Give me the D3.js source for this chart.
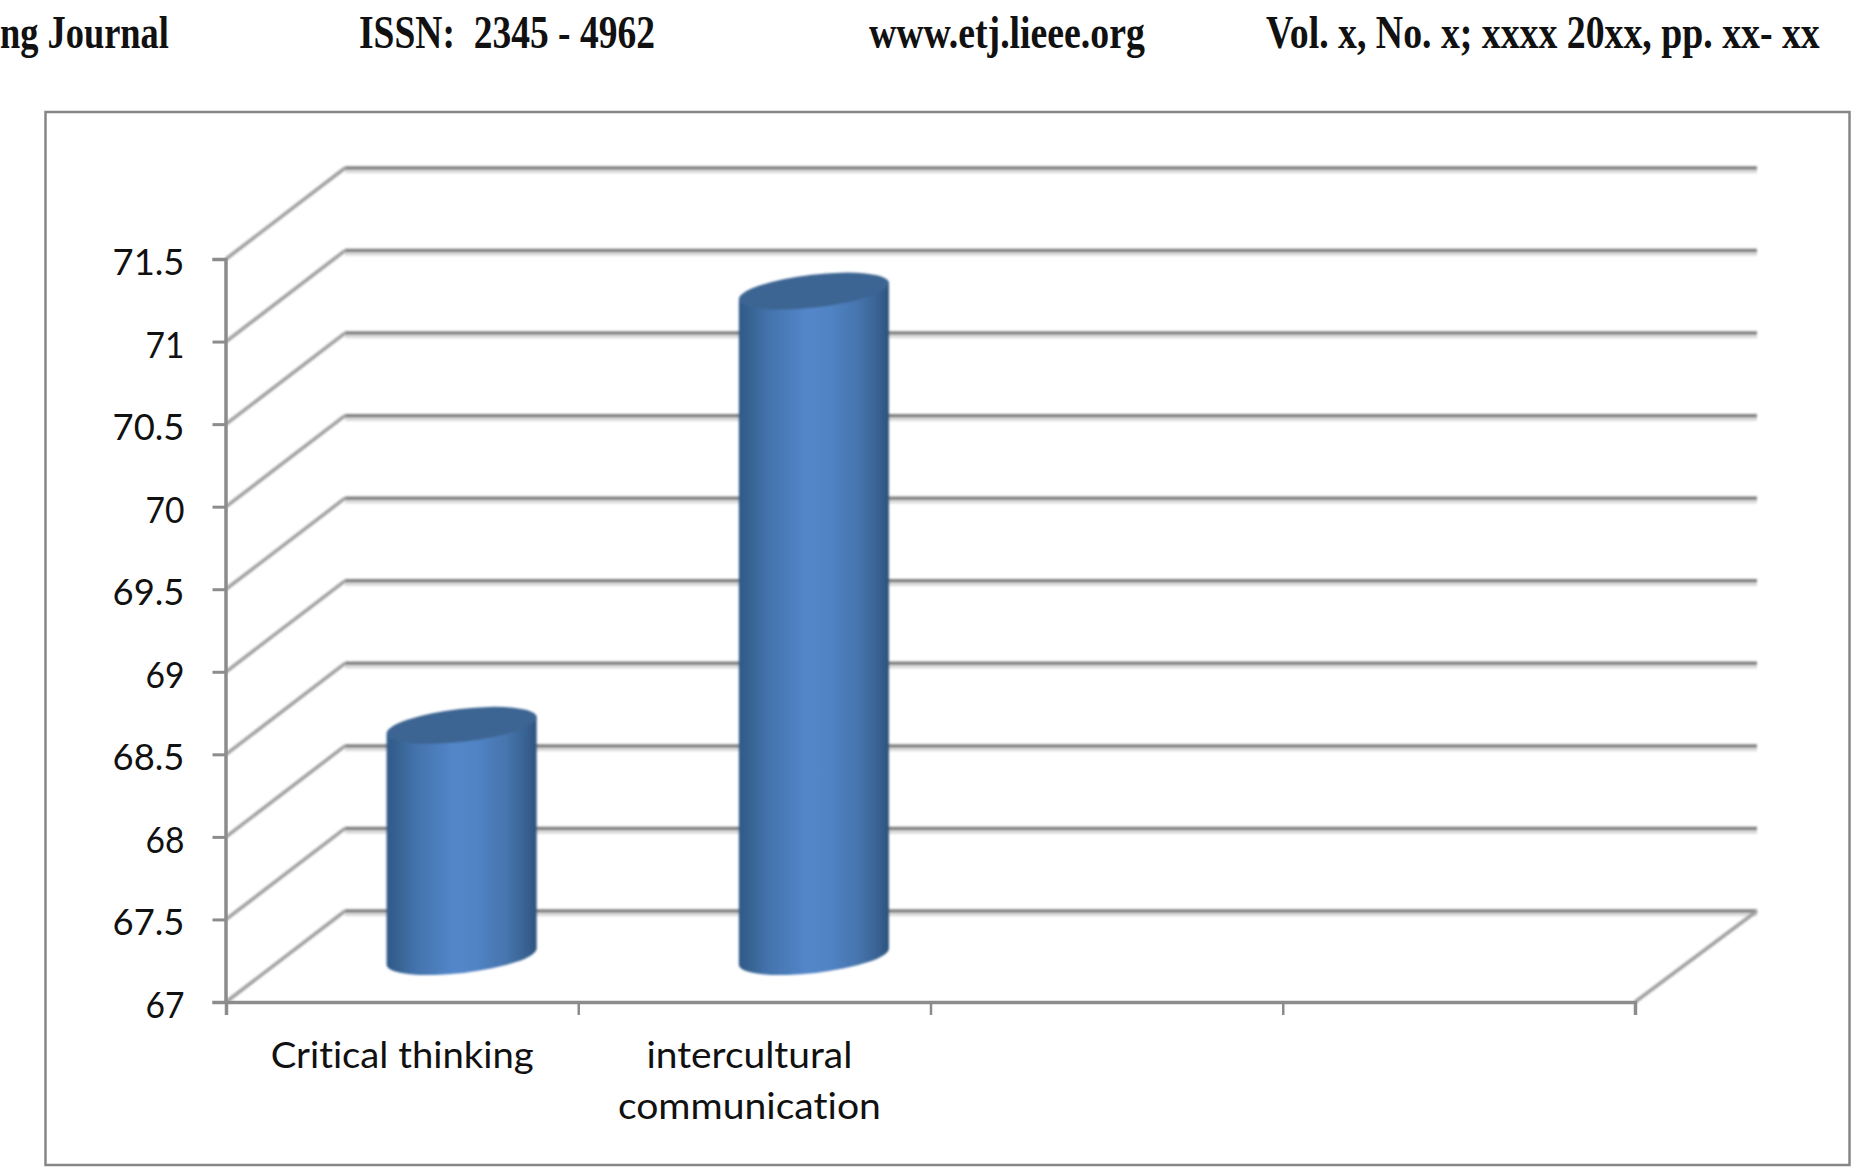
<!DOCTYPE html>
<html lang="en">

<head>
    <meta charset="utf-8">
    <!-- Load d3.js -->
    <script src="https://d3js.org/d3.v7.min.js"></script>
    <style>
        html, body {
            margin: 0;
            padding: 0;
            background: #fff;
            overflow: hidden;
        }

        svg {
            display: block;
        }

        .header text {
            font-family: "Liberation Serif", serif;
            font-weight: bold;
            font-size: 46px;
            white-space: pre;
            fill: #111;
        }

        .axis-label {
            font-family: Lato, sans-serif;
            font-size: 37px;
            font-variant-ligatures: none;
            fill: #111;
        }
    </style>
</head>

<body>
    <div id="my_dataviz"></div>

    <script>
        // values
        const categories = ["Critical thinking", "intercultural communication", "blank 3", "blank 4"];
        const values = [68.4, 71.03];
        const yTicks = [67, 67.5, 68, 68.5, 69, 69.5, 70, 70.5, 71, 71.5];
        const xLabelLines = [["Critical thinking"], ["intercultural", "communication"], [], []];
        const headerTexts = ["ng Journal", "ISSN:  2345 - 4962", "www.etj.lieee.org", "Vol. x, No. x; xxxx 20xx, pp. xx- xx"];

        // layout
        const width = 1866, height = 1175;
        const plot = { left: 226, right: 1635, top: 259, bottom: 1002 };
        const depthX = 119, depthY = 91;
        const headerEnds = [[0, 169], [359, 655], [869, 1145], [1266, 1820]];
        const xLabelWidths = { "Critical thinking": 263, "intercultural": 206, "communication": 263 };

        const svg = d3.select("#my_dataviz")
            .append("svg")
            .attr("width", width)
            .attr("height", height);

        const defs = svg.append("defs");

        defs.append("filter").attr("id", "soft")
            .attr("filterUnits", "userSpaceOnUse")
            .attr("x", 0).attr("y", 0).attr("width", width).attr("height", height)
            .append("feGaussianBlur").attr("stdDeviation", 0.9);

        const grad = defs.append("linearGradient").attr("id", "cyl");
        [[0, "#2f5888"], [0.06, "#35618f"], [0.2, "#4473ad"], [0.45, "#5386c9"], [0.6, "#5184c4"], [0.8, "#4674ad"], [0.94, "#37608f"], [1, "#2d527c"]]
            .forEach(d => grad.append("stop").attr("offset", d[0]).attr("stop-color", d[1]));

        // scales
        const y = d3.scaleLinear().domain([67, 71.5]).range([plot.bottom, plot.top]);
        const x = d3.scaleBand().domain(categories).range([plot.left, plot.right]);
        const xEdges = d3.scaleLinear().domain([0, categories.length]).range([plot.left, plot.right]);

        // page header above the chart, squeezed sideways to the scanned widths
        svg.append("g").attr("class", "header")
            .selectAll("text")
            .data(headerTexts)
            .join("text")
            .text(d => d)
            .attr("transform", function (d, i) {
                const sx = (headerEnds[i][1] - headerEnds[i][0]) / this.getComputedTextLength();
                return `translate(${headerEnds[i][0]},48)scale(${sx},1)`;
            });

        // chart frame
        svg.append("rect")
            .attr("x", 45.5).attr("y", 112)
            .attr("width", 1804).attr("height", 1053)
            .attr("fill", "#fff")
            .attr("stroke", "#868686")
            .attr("stroke-width", 2.5);

        // back wall and side wall grid
        const grid = svg.append("g").attr("filter", "url(#soft)");
        const backLeft = plot.left + depthX, backRight = plot.right + 122;

        grid.selectAll(".shade")
            .data(yTicks)
            .join("line")
            .attr("class", "shade")
            .attr("x1", backLeft).attr("x2", backRight)
            .attr("y1", d => y(d) - depthY + 3.5).attr("y2", d => y(d) - depthY + 3.5)
            .attr("stroke", "#dcdcdc")
            .attr("stroke-width", 3.5);

        grid.selectAll(".back")
            .data(yTicks)
            .join("line")
            .attr("class", "back")
            .attr("x1", backLeft).attr("x2", backRight)
            .attr("y1", d => y(d) - depthY).attr("y2", d => y(d) - depthY)
            .attr("stroke", "#808080")
            .attr("stroke-width", 3.5);

        grid.selectAll(".side")
            .data(yTicks)
            .join("line")
            .attr("class", "side")
            .attr("x1", plot.left).attr("x2", backLeft)
            .attr("y1", d => y(d)).attr("y2", d => y(d) - depthY)
            .attr("stroke", "#a0a0a0")
            .attr("stroke-width", 3.5);

        // floor edge on the right
        grid.append("line")
            .attr("x1", plot.right).attr("y1", y(67))
            .attr("x2", backRight).attr("y2", y(67) - depthY)
            .attr("stroke", "#a0a0a0")
            .attr("stroke-width", 3.5);

        // axes
        const yAxis = svg.append("g")
            .attr("transform", `translate(${plot.left - 0.5},0)`)
            .call(d3.axisLeft(y).tickValues(yTicks).tickSize(13).tickPadding(28).tickFormat(d => String(d)));

        yAxis.select(".domain").attr("stroke", "#8c8c8c").attr("stroke-width", 3.5);
        yAxis.selectAll(".tick line").attr("stroke", "#8c8c8c").attr("stroke-width", 3);
        yAxis.selectAll("text")
            .attr("class", "axis-label")
            .attr("dy", "0.42em")
            .attr("textLength", d => String(d).length > 2 ? 72 : 39)
            .attr("lengthAdjust", "spacingAndGlyphs")
            .style("font-family", "Lato, sans-serif")
            .style("font-size", "37px");

        const xAxis = svg.append("g")
            .attr("transform", `translate(0,${plot.bottom})`)
            .call(d3.axisBottom(xEdges).tickValues(d3.range(categories.length + 1)).tickSize(13).tickFormat(""));

        xAxis.select(".domain").attr("stroke", "#8c8c8c").attr("stroke-width", 3.5);
        xAxis.selectAll(".tick line").attr("stroke", "#8c8c8c").attr("stroke-width", 2.5);

        // category labels, one text per line
        const labelRows = categories.flatMap((c, i) => xLabelLines[i].map((line, j) => ({ c, i, line, j })));

        svg.append("g").selectAll("text")
            .data(labelRows)
            .join("text")
            .attr("class", "axis-label")
            .attr("text-anchor", "middle")
            .attr("x", d => x(d.c) + x.bandwidth() / 2 - d.i * 5)
            .attr("y", d => 1068 + d.j * 51)
            .attr("textLength", d => xLabelWidths[d.line])
            .attr("lengthAdjust", "spacingAndGlyphs")
            .text(d => d.line);

        // cylinders stand half way back on the floor
        const tilt = 6.5;
        const rad = tilt * Math.PI / 180;
        const halfWidth = x.bandwidth() * 0.426 / 2;
        const rx = halfWidth / Math.cos(rad);
        const ry = 16.5;
        const dropY = rx * Math.sin(rad);

        const bars = svg.append("g").attr("filter", "url(#soft)")
            .selectAll("g")
            .data(values)
            .join("g")
            .attr("transform", (d, i) => `translate(${x(categories[i]) + x.bandwidth() / 2 + depthX / 2},0)`);

        bars.append("path")
            .attr("fill", "url(#cyl)")
            .attr("d", d => {
                const top = y(d) - depthY / 2, floor = y(67) - depthY / 2;
                return `M${-halfWidth},${top + dropY}`
                    + `L${-halfWidth},${floor + dropY}`
                    + `A${rx},${ry} ${-tilt} 0 0 ${halfWidth},${floor - dropY}`
                    + `L${halfWidth},${top - dropY}Z`;
            });

        bars.append("ellipse")
            .attr("rx", rx)
            .attr("ry", ry)
            .attr("fill", "#3c6593")
            .attr("transform", d => `translate(0,${y(d) - depthY / 2})rotate(${-tilt})`);
    </script>

</body>

</html>
